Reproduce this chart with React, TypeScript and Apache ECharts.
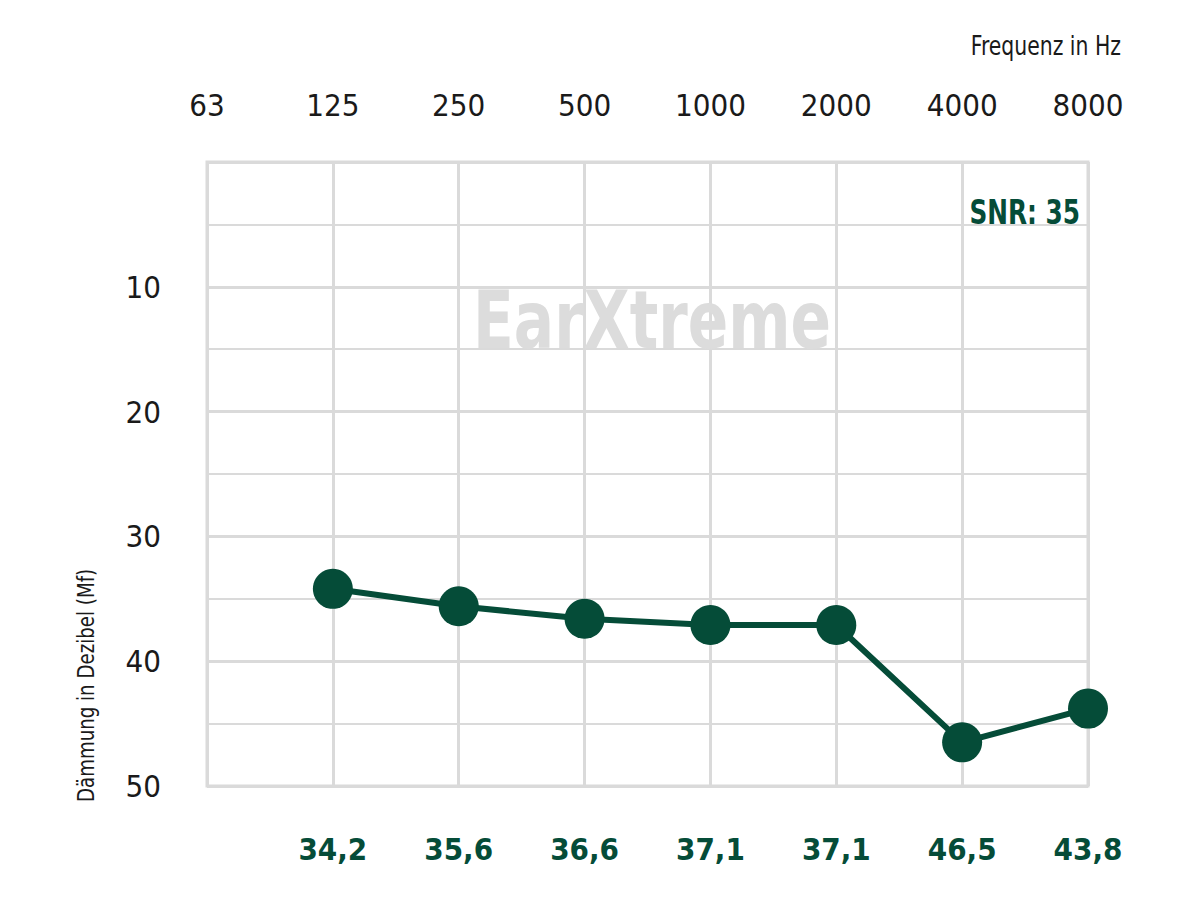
import React, { useEffect, useRef } from "react";
import * as echarts from "echarts";

const frequencies = ["63", "125", "250", "500", "1000", "2000", "4000", "8000"];
const attenuation: (number | null)[] = [null, 34.2, 35.6, 36.6, 37.1, 37.1, 46.5, 43.8];
const yTicks = [0, 10, 20, 30, 40, 50];
const snrLabel = "SNR: 35";
const watermark = "EarXtreme";
const xTitle = "Frequenz in Hz";
const yTitle = "Dämmung in Dezibel (Mf)";

const GREEN = "#054c38";
const GRID = "#dadada";
const FONT = "'DejaVu Sans Condensed', 'Liberation Sans Narrow', 'Noto Sans', sans-serif";

export default function App() {
  const ref = useRef<HTMLDivElement>(null);
  useEffect(() => {
    if (!ref.current) return;
    const chart = echarts.init(ref.current, undefined, { renderer: "svg" });
    const valueLabels = attenuation.map((v) => (v == null ? "" : v.toFixed(1).replace(".", ",")));
    chart.setOption({
      animation: false,
      backgroundColor: "#ffffff",
      grid: {
        left: 207,
        right: 112,
        top: 162,
        bottom: 114,
        show: true,
        borderColor: GRID,
        borderWidth: 3,
      },
      xAxis: [
        {
          type: "category",
          position: "top",
          data: frequencies,
          boundaryGap: false,
          axisLine: { show: false },
          axisTick: { show: false },
          axisLabel: { margin: 42, fontSize: 31, color: "#1a1a1a", fontFamily: FONT },
          splitLine: { show: true, lineStyle: { color: GRID, width: 3 } },
        },
        {
          type: "category",
          position: "bottom",
          data: valueLabels,
          boundaryGap: false,
          axisLine: { show: false },
          axisTick: { show: false },
          axisLabel: {
            margin: 47,
            fontSize: 31,
            fontWeight: "bold",
            color: GREEN,
            fontFamily: FONT,
          },
          splitLine: { show: false },
        },
      ],
      yAxis: {
        type: "value",
        inverse: true,
        min: yTicks[0],
        max: yTicks[yTicks.length - 1],
        interval: 10,
        axisLine: { show: false },
        axisTick: { show: false },
        axisLabel: {
          margin: 46,
          fontSize: 31,
          color: "#1a1a1a",
          fontFamily: FONT,
          formatter: (v: number) => (v === 0 ? "" : String(v)),
        },
        splitLine: { show: true, lineStyle: { color: GRID, width: 3 } },
        minorTick: { show: false, splitNumber: 2 },
        minorSplitLine: { show: true, lineStyle: { color: GRID, width: 2 } },
      },
      series: [
        {
          type: "line",
          data: attenuation,
          xAxisIndex: 0,
          connectNulls: false,
          symbol: "circle",
          symbolSize: 40,
          lineStyle: { color: GREEN, width: 6 },
          itemStyle: { color: GREEN },
          z: 5,
        },
      ],
      graphic: [
        {
          type: "text",
          x: 652,
          y: 320,
          scaleX: 0.83,
          z: 1,
          style: {
            text: watermark,
            fill: "#dcdcdc",
            font: `bold 80px ${FONT}`,
            textAlign: "center",
            textVerticalAlign: "middle",
          },
        },
        {
          type: "text",
          x: 1080,
          y: 212,
          scaleX: 0.81,
          z: 10,
          style: {
            text: snrLabel,
            fill: GREEN,
            font: `bold 34px ${FONT}`,
            textAlign: "right",
            textVerticalAlign: "middle",
          },
        },
        {
          type: "text",
          x: 1121,
          y: 46,
          scaleX: 0.84,
          style: {
            text: xTitle,
            fill: "#1a1a1a",
            font: `27px ${FONT}`,
            textAlign: "right",
            textVerticalAlign: "middle",
          },
        },
        {
          type: "text",
          x: 86,
          y: 802,
          rotation: Math.PI / 2,
          scaleX: 0.88,
          style: {
            text: yTitle,
            fill: "#1a1a1a",
            font: `23px ${FONT}`,
            textAlign: "left",
            textVerticalAlign: "middle",
          },
        },
      ],
    });
    return () => chart.dispose();
  }, []);
  return (
    <div
      ref={ref}
      style={{ position: "fixed", left: 0, top: 0, width: 1200, height: 900 }}
    />
  );
}
